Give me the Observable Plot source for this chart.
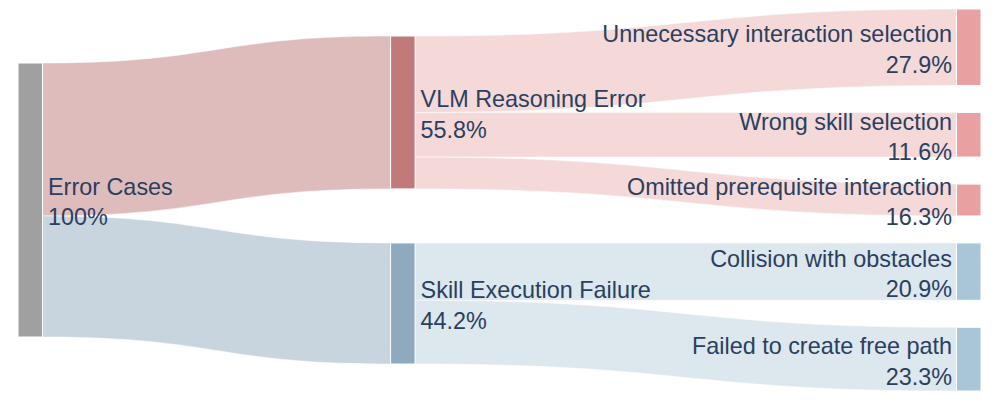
<!DOCTYPE html>
<html>
<head>
<meta charset="utf-8">
<script src="https://cdn.jsdelivr.net/npm/d3@7"></script>
<script src="https://cdn.jsdelivr.net/npm/@observablehq/plot@0.6"></script>
<style>
  html, body { margin: 0; padding: 0; background: #fff; }
  #chart svg { display: block; }
</style>
</head>
<body>
<div id="chart"></div>
<script>
// ---------- data ----------
const nodeNames = [
  "Error Cases",
  "VLM Reasoning Error",
  "Skill Execution Failure",
  "Unnecessary interaction selection",
  "Wrong skill selection",
  "Omitted prerequisite interaction",
  "Collision with obstacles",
  "Failed to create free path"
];
const nodeShares = ["100%", "55.8%", "44.2%", "27.9%", "11.6%", "16.3%", "20.9%", "23.3%"];
const linkSources = [0, 0, 1, 1, 1, 2, 2];
const linkTargets = [1, 2, 3, 4, 5, 6, 7];
const linkCounts  = [24, 19, 12, 7, 5, 9, 10];

// ---------- styles ----------
const nodeColors = ["#a0a0a0", "#c17a7a", "#8fa9be", "#e8a0a0", "#e8a0a0", "#e8a0a0", "#a8c6d8", "#a8c6d8"];
const linkColors = ["#dfbcbc", "#c8d5df", "#f5d9d9", "#f5d9d9", "#f5d9d9", "#dce7ee", "#dce7ee"];

// ---------- layout options ----------
const W = 996, H = 405;
const opt = {
  left: 18, right: 981, top: 9, bottom: 391,
  nodeWidth: 24.5, nodePad: 27, iterations: 0,
  columnPosition: [0, 0.397, 1]
};

// ---------- sankey layout (d3-sankey style, input order kept) ----------
function sankey() {
  const nodes = nodeNames.map((name, i) => ({index: i, name, share: nodeShares[i], color: nodeColors[i], sourceLinks: [], targetLinks: []}));
  const links = linkSources.map((s, i) => ({index: i, source: nodes[s], target: nodes[linkTargets[i]], value: linkCounts[i], color: linkColors[i]}));
  for (const l of links) { l.source.sourceLinks.push(l); l.target.targetLinks.push(l); }
  for (const n of nodes) n.value = Math.max(d3.sum(n.sourceLinks, l => l.value), d3.sum(n.targetLinks, l => l.value));
  let current = nodes.filter(n => n.targetLinks.length === 0), depth = 0;
  while (current.length) {
    const next = new Set();
    for (const n of current) { n.layer = depth; for (const l of n.sourceLinks) next.add(l.target); }
    current = [...next]; depth++;
  }
  const maxLayer = depth - 1;
  const columns = d3.range(depth).map(d => nodes.filter(n => n.layer === d));
  for (const n of nodes) {
    const f = opt.columnPosition[n.layer] ?? n.layer / maxLayer;
    n.x0 = opt.left + f * (opt.right - opt.left - opt.nodeWidth);
    n.x1 = n.x0 + opt.nodeWidth;
  }
  const y0 = opt.top, y1 = opt.bottom;
  const py = Math.min(opt.nodePad, (y1 - y0) / (d3.max(columns, c => c.length) - 1));
  const ky = d3.min(columns, c => (y1 - y0 - (c.length - 1) * py) / d3.sum(c, n => n.value));
  for (const c of columns) {
    let y = y0;
    for (const n of c) { n.y0 = y; n.y1 = y + n.value * ky; y = n.y1 + py; }
    const s = (y1 - y + py) / (c.length + 1);
    c.forEach((n, i) => { n.y0 += s * (i + 1); n.y1 += s * (i + 1); });
  }
  for (const l of links) l.width = l.value * ky;

  function targetTop(source, target) {
    let y = source.y0 - (source.sourceLinks.length - 1) * py / 2;
    for (const {target: node, width} of source.sourceLinks) { if (node === target) break; y += width + py; }
    for (const {source: node, width} of target.targetLinks) { if (node === source) break; y -= width; }
    return y;
  }
  function sourceTop(source, target) {
    let y = target.y0 - (target.targetLinks.length - 1) * py / 2;
    for (const {source: node, width} of target.targetLinks) { if (node === source) break; y += width + py; }
    for (const {target: node, width} of source.sourceLinks) { if (node === target) break; y -= width; }
    return y;
  }
  function topToBottom(c, y, i, alpha) {
    for (; i < c.length; ++i) { const n = c[i]; const dy = (y - n.y0) * alpha; if (dy > 1e-6) { n.y0 += dy; n.y1 += dy; } y = n.y1 + py; }
  }
  function bottomToTop(c, y, i, alpha) {
    for (; i >= 0; --i) { const n = c[i]; const dy = (n.y1 - y) * alpha; if (dy > 1e-6) { n.y0 -= dy; n.y1 -= dy; } y = n.y0 - py; }
  }
  function resolve(c, alpha) {
    const i = c.length >> 1, subject = c[i];
    bottomToTop(c, subject.y0 - py, i - 1, alpha);
    topToBottom(c, subject.y1 + py, i + 1, alpha);
    bottomToTop(c, y1, c.length - 1, alpha);
    topToBottom(c, y0, 0, alpha);
  }
  function relaxLR(alpha, beta) {
    for (let i = 1; i < columns.length; ++i) {
      for (const t of columns[i]) {
        let y = 0, w = 0;
        for (const l of t.targetLinks) { const v = l.value * (t.layer - l.source.layer); y += targetTop(l.source, t) * v; w += v; }
        if (!(w > 0)) continue;
        const dy = (y / w - t.y0) * alpha; t.y0 += dy; t.y1 += dy;
      }
      resolve(columns[i], beta);
    }
  }
  function relaxRL(alpha, beta) {
    for (let i = columns.length - 2; i >= 0; --i) {
      for (const s of columns[i]) {
        let y = 0, w = 0;
        for (const l of s.sourceLinks) { const v = l.value * (l.target.layer - s.layer); y += sourceTop(s, l.target) * v; w += v; }
        if (!(w > 0)) continue;
        const dy = (y / w - s.y0) * alpha; s.y0 += dy; s.y1 += dy;
      }
      resolve(columns[i], beta);
    }
  }
  for (let i = 0; i < opt.iterations; ++i) {
    const alpha = Math.pow(0.99, i);
    const beta = Math.max(1 - alpha, (i + 1) / opt.iterations);
    relaxRL(alpha, beta);
    relaxLR(alpha, beta);
  }
  for (const n of nodes) {
    let ys = n.y0, yt = n.y0;
    for (const l of n.sourceLinks) { l.sy0 = ys; ys += l.width; l.sy1 = ys; }
    for (const l of n.targetLinks) { l.ty0 = yt; yt += l.width; l.ty1 = yt; }
  }
  return {nodes, links};
}

const {nodes, links} = sankey();

// link bands: two points each, joined with a bump-x curve
const bands = links.flatMap(l => [
  {id: l.index, x: l.source.x1, top: l.sy0, bot: l.sy1, color: l.color},
  {id: l.index, x: l.target.x0, top: l.ty0, bot: l.ty1, color: l.color}
]);

const labels = nodes.map(n => {
  const last = n.sourceLinks.length === 0;
  return {
    x: last ? n.x0 - 5 : n.x1 + 5,
    y: (n.y0 + n.y1) / 2,
    text: n.name + "\n" + n.share,
    anchor: last ? "end" : "start"
  };
});

const chart = Plot.plot({
  width: W,
  height: H,
  margin: 0,
  x: {type: "identity", axis: null},
  y: {type: "identity", axis: null},
  style: {fontFamily: "'Liberation Sans', Arial, sans-serif", background: "#fff"},
  marks: [
    Plot.areaY(bands, {x: "x", y1: "top", y2: "bot", z: "id", fill: "color", curve: "bump-x", stroke: "white", strokeWidth: 0.5}),
    Plot.rect(nodes, {x1: "x0", x2: "x1", y1: "y0", y2: "y1", fill: "color", stroke: "white", strokeWidth: 1}),
    Plot.text(labels.filter(d => d.anchor === "start"), {x: "x", y: "y", text: "text", textAnchor: "start", lineAnchor: "middle", lineHeight: 1.3, fontSize: 23.4, fill: "#2a3f5f"}),
    Plot.text(labels.filter(d => d.anchor === "end"), {x: "x", y: "y", text: "text", textAnchor: "end", lineAnchor: "middle", lineHeight: 1.3, fontSize: 23.4, fill: "#2a3f5f"})
  ]
});
document.getElementById("chart").appendChild(chart);
</script>
</body>
</html>
